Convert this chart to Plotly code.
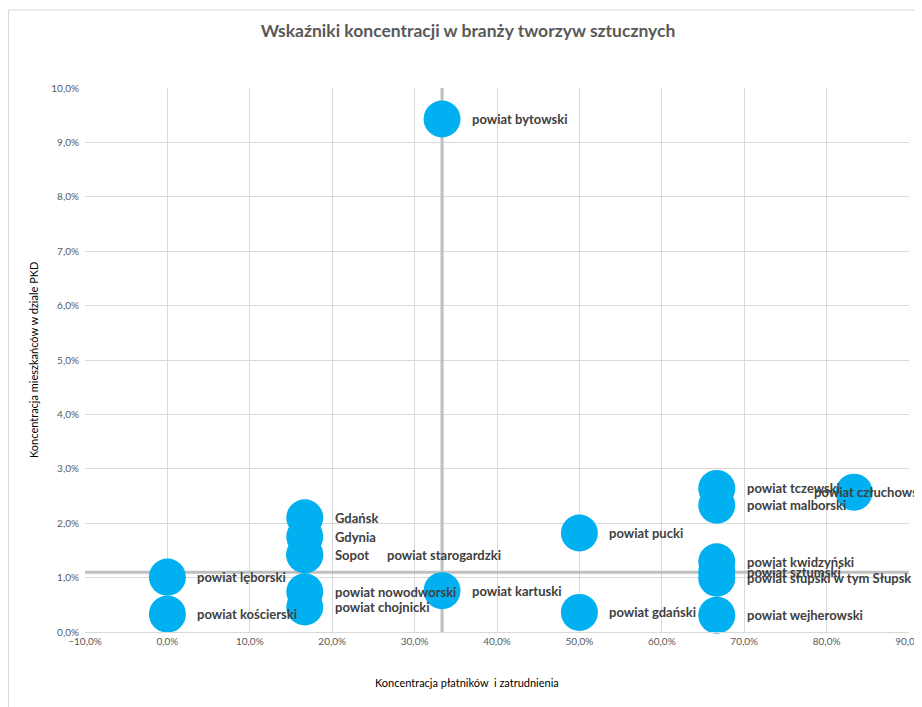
import plotly.graph_objects as go

# Data
names = ["powiat bytowski", "powiat lęborski", "powiat kościerski", "Gdańsk", "Gdynia", "Sopot",
         "powiat starogardzki", "powiat nowodworski", "powiat chojnicki", "powiat kartuski",
         "powiat pucki", "powiat gdański", "powiat tczewski", "powiat malborski",
         "powiat człuchowski", "powiat kwidzyński", "powiat sztumski",
         "powiat słupski w tym Słupsk", "powiat wejherowski"]
x_vals = [0.3333, 0.0, 0.0, 0.1667, 0.1667, 0.1667,
          0.1667, 0.1667, 0.1667, 0.3333,
          0.5, 0.5, 0.6667, 0.6667,
          0.8333, 0.6667, 0.6667,
          0.6667, 0.6667]
y_vals = [0.0943, 0.0101, 0.0033, 0.0210, 0.0175, 0.0142,
          0.0142, 0.0074, 0.0046, 0.0076,
          0.0182, 0.0036, 0.0264, 0.0233,
          0.0257, 0.0129, 0.0111,
          0.0099, 0.0031]
x_mean = 0.3333
y_mean = 0.0110

title = "Wskaźniki koncentracji w branży tworzyw sztucznych"
x_title = "Koncentracja płatników  i zatrudnienia"
y_title = "Koncentracja mieszkańców w dziale PKD"

# Styling
label_shift_default = 28
label_shift_special = {"powiat starogardzki": 80, "powiat człuchowski": -42}
font_family = "Lato, 'Open Sans', sans-serif"
# the page body adds an 8px offset; compensate so the picture lines up
W, H, OFF = 914, 699, 8

fig = go.Figure()

# Mean reference lines
fig.add_trace(go.Scatter(x=[x_mean, x_mean], y=[0, 0.10], mode="lines",
                         line=dict(color="#bfbfbf", width=3), hoverinfo="skip", showlegend=False))
fig.add_trace(go.Scatter(x=[-0.1, 0.9], y=[y_mean, y_mean], mode="lines",
                         line=dict(color="#bfbfbf", width=3), hoverinfo="skip", showlegend=False))

fig.add_trace(go.Scatter(x=x_vals, y=y_vals, mode="markers", text=names,
                         marker=dict(size=37, color="#00B0F0", line=dict(width=0)),
                         cliponaxis=False, showlegend=False))

annotations = []
for n, xv, yv in zip(names, x_vals, y_vals):
    annotations.append(dict(x=xv, y=yv, xref="x", yref="y", text=n, showarrow=False,
                            xanchor="left", yanchor="middle",
                            xshift=label_shift_special.get(n, label_shift_default),
                            font=dict(family=font_family, size=13, color="#404040", weight="bold")))

annotations.append(dict(xref="paper", yref="paper", x=(467 - 85) / 824, y=(632 - 682) / 544,
                        text=x_title, showarrow=False, xanchor="center", yanchor="middle",
                        font=dict(family=font_family, size=11, color="#000000")))
annotations.append(dict(xref="paper", yref="paper", x=(33 - 85) / 824, y=0.5, text=y_title,
                        showarrow=False, textangle=-90, xanchor="center", yanchor="middle",
                        font=dict(family=font_family, size=11, color="#000000")))

fig.update_layout(
    width=W, height=H,
    margin=dict(l=85 - OFF, r=13, t=88 - OFF, b=75),
    paper_bgcolor="white", plot_bgcolor="white",
    separators=", ",
    title=dict(text=title, x=(468 - OFF) / W, xref="container", xanchor="center",
               y=1 - (31 - OFF) / H, yref="container", yanchor="middle",
               font=dict(family=font_family, size=17.5, color="#595959", weight="bold")),
    xaxis=dict(range=[-0.1, 0.9], dtick=0.1, tick0=-0.1, tickformat=".1%",
               showgrid=True, gridcolor="#d9d9d9", gridwidth=1, zeroline=False,
               showline=True, linecolor="#d9d9d9", ticks="", automargin=False,
               ticklabeloverflow="allow",
               tickfont=dict(family=font_family, size=10, color="#595959")),
    yaxis=dict(range=[0, 0.10], dtick=0.01, tickformat=".1%",
               showgrid=True, gridcolor="#d9d9d9", gridwidth=1, zeroline=False,
               showline=False, ticks="", automargin=False, ticklabelstandoff=5,
               tickfont=dict(family=font_family, size=10, color="#595959")),
    annotations=annotations,
    shapes=[dict(type="rect", xref="paper", yref="paper",
                 x0=(85 - OFF - 0.5) / -824 * -1 * 0 + (-(85 - OFF) + 0.5) / 824,
                 x1=(940 - 85) / 824,
                 y0=(632 - 720) / 544, y1=(632 - 10) / 544,
                 line=dict(color="#d9d9d9", width=1), layer="below")],
    font=dict(family=font_family),
)

fig.write_html("out.html")
